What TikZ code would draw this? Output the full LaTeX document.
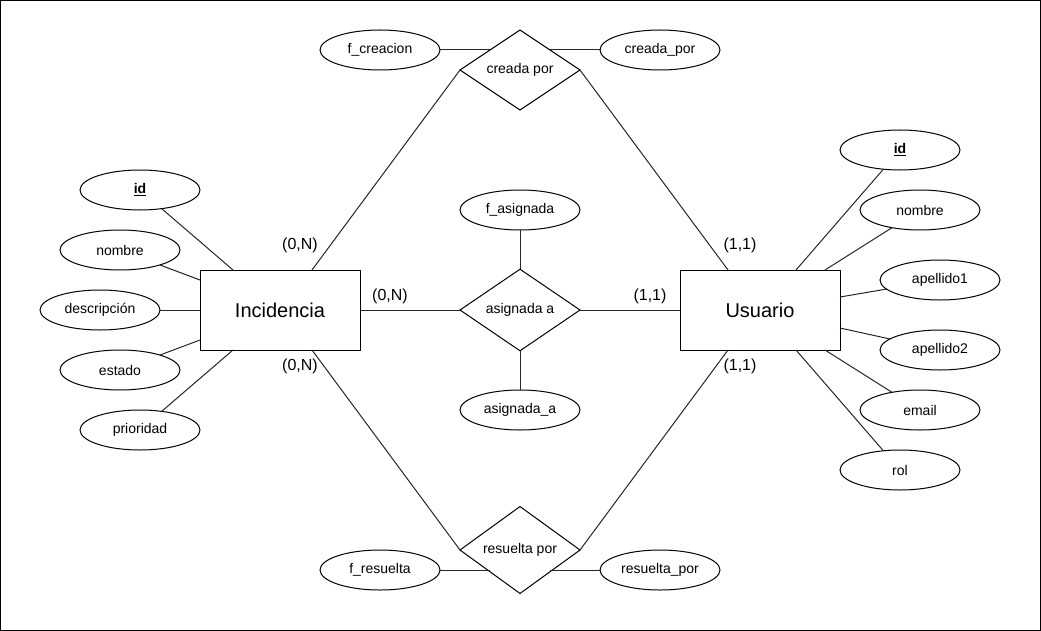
\documentclass[tikz,border=0pt]{standalone}
\usepackage{fontspec}
\setmainfont{Liberation Sans}
\usetikzlibrary{shapes.geometric,calc}
\begin{document}
\begin{tikzpicture}[x=0.75pt,y=-0.75pt,
  every node/.style={inner sep=0pt,outer sep=0pt},
  entity/.style={draw=black,line width=0.75pt,minimum width=120pt,minimum height=60pt,font=\fontsize{15}{18}\selectfont},
  attr/.style={draw=black,line width=0.75pt,ellipse,minimum width=90pt,minimum height=30pt,font=\fontsize{10.5}{12}\selectfont},
  rel/.style={draw=black,line width=0.75pt,diamond,minimum width=90pt,minimum height=60pt,font=\fontsize{10.5}{12}\selectfont},
  card/.style={font=\fontsize{12}{14}\selectfont},
  conn/.style={draw=black!85,line width=0.75pt},
  keyattr/.style={attr,font=\fontsize{10.5}{12}\selectfont\bfseries}
]
\useasboundingbox (0,0) rectangle (1041,631);
\draw[line width=0.75pt] (0.5,0.5) rectangle (1040,630);

% entities
\node[entity] (inc) at (280,310) {Incidencia};
\node[entity] (usu) at (760,310) {Usuario};

% relationships
\node[rel] (creada) at (520,70) {creada por};
\node[rel] (asig) at (520,310) {asignada a};
\node[rel] (resu) at (520,550) {resuelta por};

% relationship attributes
\node[attr] (fcre) at (380,50) {f\_creacion};
\node[attr] (cpor) at (660,50) {creada\_por};
\node[attr] (fasi) at (520,210) {f\_asignada};
\node[attr] (asia) at (520,410) {asignada\_a};
\node[attr] (fres) at (380,570) {f\_resuelta};
\node[attr] (rpor) at (660,570) {resuelta\_por};

% Incidencia attributes
\node[keyattr] (iid) at (140,190) {\underline{id}};
\node[attr] (inom) at (120,250) {nombre};
\node[attr] (ides) at (100,310) {descripción};
\node[attr] (iest) at (120,370) {estado};
\node[attr] (ipri) at (140,430) {prioridad};

% Usuario attributes
\node[keyattr] (uid) at (900,150) {\underline{id}};
\node[attr] (unom) at (920,210) {nombre};
\node[attr] (uap1) at (940,280) {apellido1};
\node[attr] (uap2) at (940,350) {apellido2};
\node[attr] (uema) at (920,410) {email};
\node[attr] (urol) at (900,470) {rol};

% attachment points
\coordinate (pInId) at ($(inc.north west)+(33,0)$);
\coordinate (pInNom) at ($(inc.north west)+(0,10)$);
\coordinate (pInEst) at ($(inc.south west)+(0,-10)$);
\coordinate (pInPri) at ($(inc.south west)+(33,0)$);
\coordinate (pInTop) at ($(inc.north east)+(-48,0)$);
\coordinate (pInBot) at ($(inc.south east)+(-48,0)$);
\coordinate (pUsTop) at ($(usu.north west)+(48,0)$);
\coordinate (pUsBot) at ($(usu.south west)+(48,0)$);
\coordinate (pUsId) at ($(usu.north east)+(-44,0)$);
\coordinate (pUsNom) at ($(usu.north east)+(-15,0)$);
\coordinate (pUsAp1) at ($(usu.north east)+(0,27)$);
\coordinate (pUsAp2) at ($(usu.south east)+(0,-22)$);
\coordinate (pUsEma) at ($(usu.south east)+(-15,0)$);
\coordinate (pUsRol) at ($(usu.south east)+(-44,0)$);

% Incidencia attribute connectors
\draw[conn] (iid) -- (pInId);
\draw[conn] (inom) -- (pInNom);
\draw[conn] (ides) -- (inc.west);
\draw[conn] (iest) -- (pInEst);
\draw[conn] (ipri) -- (pInPri);

% Usuario attribute connectors
\draw[conn] (uid) -- (pUsId);
\draw[conn] (unom) -- (pUsNom);
\draw[conn] (uap1) -- (pUsAp1);
\draw[conn] (uap2) -- (pUsAp2);
\draw[conn] (uema) -- (pUsEma);
\draw[conn] (urol) -- (pUsRol);

% relationship connectors
\draw[conn] (pInTop) -- (creada.west);
\draw[conn] (pUsTop) -- (creada.east);
\draw[conn] (pInBot) -- (resu.west);
\draw[conn] (pUsBot) -- (resu.east);
\draw[conn] (inc.east) -- (asig.west);
\draw[conn] (asig.east) -- (usu.west);

% relationship attribute connectors
\draw[conn] (fcre.east) -- (creada.north west |- fcre.east);
\draw[conn] (cpor.west) -- (creada.north east |- cpor.west);
\draw[conn] (fres.east) -- (resu.south west |- fres.east);
\draw[conn] (rpor.west) -- (resu.south east |- rpor.west);
\draw[conn] (fasi.south) -- (asig.north);
\draw[conn] (asia.north) -- (asig.south);

% cardinalities
\node[card] (c1) at (300,245) {(0,N)};
\node[card] (c2) at (390,296) {(0,N)};
\node[card] (c3) at (300,366) {(0,N)};
\node[card] (c4) at (740,245) {(1,1)};
\node[card] (c5) at (650,296) {(1,1)};
\node[card] (c6) at (740,366) {(1,1)};
\end{tikzpicture}
\end{document}
